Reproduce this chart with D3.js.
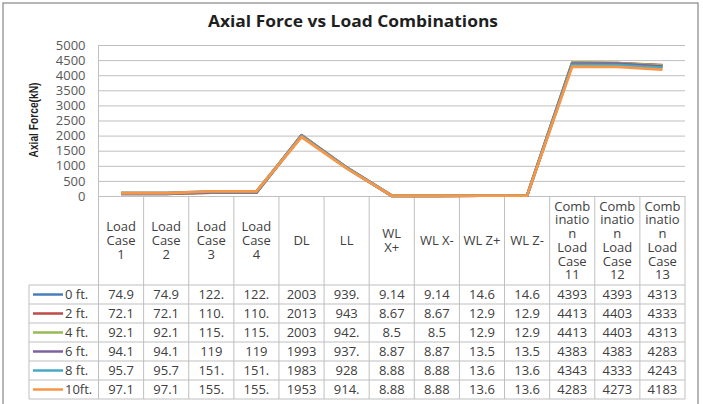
<!DOCTYPE html>
<html>
<head>
<meta charset="utf-8">
<script src="https://cdn.jsdelivr.net/npm/d3@7"></script>
<style>
  html, body { margin: 0; padding: 0; background: #fff; }
  svg { display: block; font-family: "Open Sans", sans-serif; }
</style>
</head>
<body>
<div id="chart"></div>
<script>
// Column headings of the data table, wrapped the way the original shows them.
const categories = [
  "Load\nCase\n1", "Load\nCase\n2", "Load\nCase\n3", "Load\nCase\n4",
  "DL", "LL", "WL\nX+", "WL X-", "WL Z+", "WL Z-",
  "Comb\ninatio\nn\nLoad\nCase\n11",
  "Comb\ninatio\nn\nLoad\nCase\n12",
  "Comb\ninatio\nn\nLoad\nCase\n13"
];
const seriesNames = ["0 ft.", "2 ft.", "4 ft.", "6 ft.", "8 ft.", "10ft."];

const ft0  = [74.9, 74.9, 122.4, 122.4, 2003, 939.4, 9.14, 9.14, 14.6, 14.6, 4393, 4393, 4313];
const ft2  = [72.1, 72.1, 110.3, 110.3, 2013, 943, 8.67, 8.67, 12.9, 12.9, 4413, 4403, 4333];
const ft4  = [92.1, 92.1, 115.2, 115.2, 2003, 942.2, 8.5, 8.5, 12.9, 12.9, 4413, 4403, 4313];
const ft6  = [94.1, 94.1, 119, 119, 1993, 937.5, 8.87, 8.87, 13.5, 13.5, 4383, 4383, 4283];
const ft8  = [95.7, 95.7, 151.3, 151.3, 1983, 928, 8.88, 8.88, 13.6, 13.6, 4343, 4333, 4243];
const ft10 = [97.1, 97.1, 155.6, 155.6, 1953, 914.6, 8.88, 8.88, 13.6, 13.6, 4283, 4273, 4183];
const series = [ft0, ft2, ft4, ft6, ft8, ft10];

const yTicks = [0, 500, 1000, 1500, 2000, 2500, 3000, 3500, 4000, 4500, 5000];

const colors = ["#4a7ebb", "#be4b48", "#98b954", "#7d60a0", "#46aac5", "#f79646"];

const W = 703, H = 404;
const plot = { left: 98.5, right: 685, top: 45, bottom: 196 };
const table = { left: 29, headBottom: 285, rowH: 19 };
const gridColor = "#bfbfbf";
const textColor = "#404040";

// the table cells are too narrow for some numbers, Excel just clips them
const cellText = (v) => String(v).slice(0, 4);

const svg = d3.select("#chart").append("svg").attr("width", W).attr("height", H);

svg.append("rect")
  .attr("x", 3).attr("y", 3).attr("width", 695).attr("height", 405)
  .attr("fill", "#fff").attr("stroke", "#868686").attr("stroke-width", 1.2);

svg.append("text")
  .attr("x", 353).attr("y", 27)
  .attr("text-anchor", "middle")
  .attr("font-size", 16).attr("font-weight", "bold").attr("fill", "#1f1f1f")
  .attr("textLength", 290).attr("lengthAdjust", "spacingAndGlyphs")
  .text("Axial Force vs Load Combinations");

svg.append("text")
  .attr("transform", "translate(38,120) rotate(-90)")
  .attr("text-anchor", "middle")
  .attr("font-family", "'Liberation Sans Narrow', 'Liberation Sans', sans-serif")
  .attr("font-size", 13.5).attr("font-weight", "bold").attr("fill", "#1f1f1f")
  .attr("textLength", 75).attr("lengthAdjust", "spacingAndGlyphs")
  .text("Axial Force(kN)");

const x = d3.scaleBand().domain(d3.range(categories.length)).range([plot.left, plot.right]);
const y = d3.scaleLinear().domain([0, 5000]).range([plot.bottom, plot.top]);
const bw = x.bandwidth();
const cx = (i) => x(i) + bw / 2;

// y axis with gridlines
svg.append("g")
  .attr("transform", `translate(${plot.left},0)`)
  .call(d3.axisLeft(y).tickValues(yTicks).tickSize(-(plot.right - plot.left)).tickPadding(13).tickFormat(d3.format("d")))
  .call((g) => g.select(".domain").remove())
  .call((g) => g.selectAll("line").attr("stroke", gridColor))
  .call((g) => g.selectAll("text")
    .attr("font-family", "'Open Sans', sans-serif").attr("font-size", 13).attr("fill", "#595959"));

// table grid
const rowsBottom = table.headBottom + series.length * table.rowH;
svg.append("line")
  .attr("x1", plot.left).attr("x2", plot.left).attr("y1", plot.top).attr("y2", rowsBottom)
  .attr("stroke", gridColor);
for (let i = 1; i <= categories.length; i++) {
  const xx = i === categories.length ? plot.right : x(i);
  svg.append("line")
    .attr("x1", xx).attr("x2", xx).attr("y1", plot.bottom).attr("y2", rowsBottom)
    .attr("stroke", gridColor);
}
svg.append("line")
  .attr("x1", table.left).attr("x2", table.left).attr("y1", table.headBottom).attr("y2", rowsBottom)
  .attr("stroke", gridColor);
for (let k = 0; k <= series.length; k++) {
  const yy = table.headBottom + k * table.rowH;
  svg.append("line")
    .attr("x1", table.left).attr("x2", plot.right).attr("y1", yy).attr("y2", yy)
    .attr("stroke", gridColor);
}

// column headings
const lineH = 13.7;
const headMid = (plot.bottom + table.headBottom) / 2;
categories.forEach((c, i) => {
  const parts = c.split("\n");
  const t = svg.append("text")
    .attr("text-anchor", "middle")
    .attr("font-size", 13).attr("fill", textColor);
  parts.forEach((p, j) => {
    t.append("tspan")
      .attr("x", cx(i))
      .attr("y", headMid + (j - (parts.length - 1) / 2) * lineH + 4.5)
      .text(p);
  });
});

// rows: legend key + values
series.forEach((vals, s) => {
  const mid = table.headBottom + s * table.rowH + table.rowH / 2;
  svg.append("line")
    .attr("x1", 33).attr("x2", 63).attr("y1", mid).attr("y2", mid)
    .attr("stroke", colors[s]).attr("stroke-width", 2.5);
  svg.append("text")
    .attr("x", 65).attr("y", mid + 4.5)
    .attr("font-size", 13).attr("fill", textColor)
    .text(seriesNames[s]);
  svg.selectAll(null)
    .data(vals)
    .enter()
    .append("text")
    .attr("x", (d, i) => cx(i))
    .attr("y", mid + 4.5)
    .attr("text-anchor", "middle")
    .attr("font-size", 13).attr("fill", textColor)
    .text(cellText);
});

// the lines
const line = d3.line().x((d, i) => cx(i)).y((d) => y(d));
series.forEach((vals, s) => {
  svg.append("path")
    .datum(vals)
    .attr("d", line)
    .attr("fill", "none")
    .attr("stroke", colors[s])
    .attr("stroke-width", 2.8)
    .attr("stroke-linejoin", "round");
});
</script>
</body>
</html>
